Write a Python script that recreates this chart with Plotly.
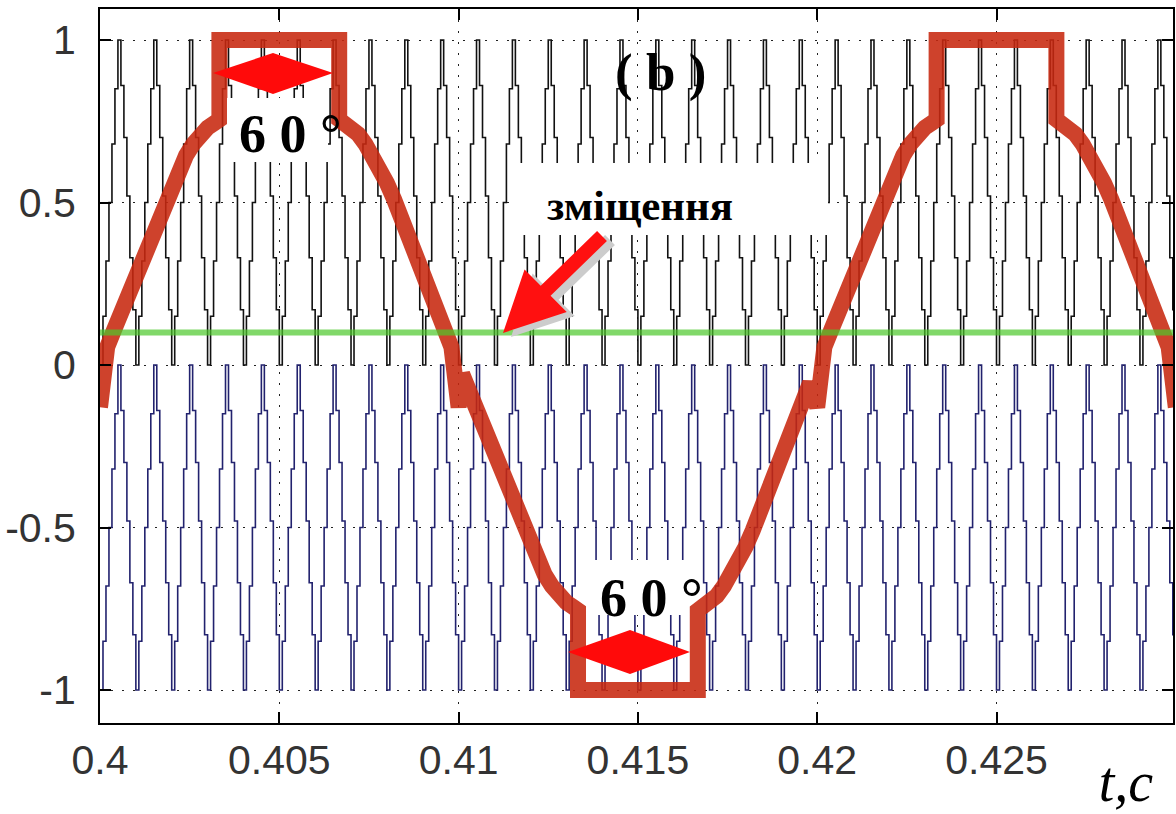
import numpy as np
import plotly.graph_objects as go

# ---------------- data ----------------
# modulating (reference) signal: red thick curve, time in s
red_t = [0.4000, 0.4001, 0.4002, 0.4004, 0.4006, 0.4008, 0.4010, 0.4012, 0.4014, 0.4016, 0.4018,
         0.4020, 0.4022, 0.4024, 0.4026, 0.4028, 0.4030, 0.4032, 0.40333,
         0.40333, 0.40667,
         0.40667, 0.4068, 0.4070, 0.4072, 0.4074, 0.4076, 0.4078, 0.4080, 0.4082, 0.4084,
         0.4086, 0.4088, 0.4090, 0.4092, 0.4094, 0.4096, 0.4098,
         0.4100, 0.4101, 0.4102, 0.4104, 0.4106, 0.4108, 0.4110, 0.4112, 0.4114, 0.4116, 0.4118,
         0.4120, 0.4122, 0.4124, 0.4126, 0.4128, 0.4130, 0.4132, 0.41333,
         0.41333, 0.41667,
         0.41667, 0.4168, 0.4170, 0.4172, 0.4174, 0.4176, 0.4178, 0.4180, 0.4182, 0.4184,
         0.4186, 0.4188, 0.4190, 0.4192, 0.4194, 0.4196, 0.4198,
         0.4200, 0.4201, 0.4202, 0.4204, 0.4206, 0.4208, 0.4210, 0.4212, 0.4214, 0.4216, 0.4218,
         0.4220, 0.4222, 0.4224, 0.4226, 0.4228, 0.4230, 0.4232, 0.42333,
         0.42333, 0.42667,
         0.42667, 0.4268, 0.4270, 0.4272, 0.4274, 0.4276, 0.4278, 0.4280, 0.4282, 0.4284,
         0.4286, 0.4288, 0.4290, 0.4292, 0.4294, 0.4296, 0.4298, 0.4300]
red_v = [-0.13, 0.028, 0.055, 0.110, 0.165, 0.215, 0.270, 0.330, 0.395, 0.455, 0.510,
         0.560, 0.605, 0.645, 0.680, 0.710, 0.730, 0.745, 0.755,
         1.000, 1.000,
         0.755, 0.745, 0.730, 0.710, 0.680, 0.645, 0.605, 0.560, 0.510, 0.455,
         0.395, 0.330, 0.270, 0.215, 0.165, 0.110, 0.055,
         -0.13, -0.028, -0.055, -0.110, -0.165, -0.215, -0.270, -0.330, -0.395, -0.455, -0.510,
         -0.560, -0.605, -0.645, -0.680, -0.710, -0.730, -0.745, -0.755,
         -1.000, -1.000,
         -0.755, -0.745, -0.730, -0.710, -0.680, -0.645, -0.605, -0.560, -0.510, -0.455,
         -0.395, -0.330, -0.270, -0.215, -0.165, -0.110, -0.055,
         -0.13, 0.028, 0.055, 0.110, 0.165, 0.215, 0.270, 0.330, 0.395, 0.455, 0.510,
         0.560, 0.605, 0.645, 0.680, 0.710, 0.730, 0.745, 0.755,
         1.000, 1.000,
         0.755, 0.745, 0.730, 0.710, 0.680, 0.645, 0.605, 0.560, 0.510, 0.455,
         0.395, 0.330, 0.270, 0.215, 0.165, 0.110, 0.055, -0.13]

# offset level (green line)
offset_level = 0.1

# triangular carriers: one sampled (stepped) period, repeated every period
carrier_period = 0.001
n_periods = 30
t_start = 0.4
upper_cycle = [0.0, 0.15, 0.32, 0.50, 0.68, 0.85, 1.0, 0.86, 0.70, 0.52, 0.33, 0.17]
lower_cycle = [-1.0, -0.85, -0.68, -0.50, -0.32, -0.15, 0.0, -0.14, -0.30, -0.48, -0.67, -0.83]

x_tick_vals = [0.4, 0.405, 0.41, 0.415, 0.42, 0.425]
x_tick_text = ["0.4", "0.405", "0.41", "0.415", "0.42", "0.425"]
y_tick_vals = [-1, -0.5, 0, 0.5, 1]
y_tick_text = ["-1", "-0.5", "0", "0.5", "1"]

# ---------------- build carriers ----------------
def carrier(cycle):
    n = n_periods * len(cycle) + 1
    vals = np.tile(cycle, n_periods + 1)[:n]
    t = t_start + np.arange(n) * (carrier_period / len(cycle))
    return t, vals

tu, vu = carrier(upper_cycle)
tl, vl = carrier(lower_cycle)

# ---------------- geometry helpers (pixel -> data / paper) ----------------
W, H = 1176, 814
ML, MR, MT, MB = 100, 3, 9, 91
PX_PER_S = 35860.0
Y0_PX, PX_PER_UNIT = 365.0, 325.0
x_max = 0.4 + (W - ML - MR) / PX_PER_S
y_max = (Y0_PX - MT) / PX_PER_UNIT
y_min = (Y0_PX - (H - MB)) / PX_PER_UNIT


def X(px):
    return 0.4 + (px - ML) / PX_PER_S


def Y(py):
    return (Y0_PX - py) / PX_PER_UNIT


def PX(px):
    return (px - ML) / (W - ML - MR)


def PY(py):
    return ((H - MB) - py) / (H - MB - MT)


def path(pts):
    return "M " + " L ".join(f"{X(a):.7f},{Y(b):.5f}" for a, b in pts) + " Z"


fig = go.Figure()

fig.add_trace(go.Scatter(x=tu, y=vu, mode="lines", line=dict(color="#111111", width=1.6, shape="hv"),
                         hoverinfo="skip", showlegend=False))
fig.add_trace(go.Scatter(x=tl, y=vl, mode="lines", line=dict(color="#22226e", width=1.6, shape="hv"),
                         hoverinfo="skip", showlegend=False))
fig.add_trace(go.Scatter(x=red_t, y=red_v, mode="lines", opacity=0.88,
                         line=dict(color="rgb(200,40,16)", width=16),
                         hoverinfo="skip", showlegend=False))
fig.add_trace(go.Scatter(x=[t_start, x_max], y=[offset_level, offset_level], mode="lines", opacity=0.7,
                         line=dict(color="#4cc82a", width=6), hoverinfo="skip", showlegend=False))

shapes = []
# white boxes behind labels
for x0, y0, x1, y1 in [(227, 98, 328, 162), (590, 560, 688, 615), (518, 163, 828, 235)]:
    shapes.append(dict(type="rect", xref="x", yref="y", x0=X(x0), x1=X(x1), y0=Y(y1), y1=Y(y0),
                       fillcolor="white", line=dict(width=0), layer="above"))

# arrow (with shadow)
u = np.array([-97.0, 96.0]); u /= np.linalg.norm(u)
nrm = np.array([u[1], -u[0]])
tip = np.array([503.0, 333.0]); tail = np.array([602.0, 236.0])
base = tip - 60 * u
arrow_pts = [tail + 7 * nrm, base + 7 * nrm, base + 30 * nrm, tip,
             base - 30 * nrm, base - 7 * nrm, tail - 7 * nrm]
shadow = [(p[0] + 8, p[1] + 4) for p in arrow_pts]
shapes.append(dict(type="path", xref="x", yref="y", path=path(shadow), fillcolor="#cccccc",
                   line=dict(width=0), layer="above"))
shapes.append(dict(type="path", xref="x", yref="y", path=path([(p[0], p[1]) for p in arrow_pts]),
                   fillcolor="#ff1010", line=dict(width=0), layer="above"))

# double-headed "60°" markers (diamonds)
for pts in [[(213, 73), (273, 53), (333, 73), (273, 94)],
            [(568, 652), (630, 630), (690, 652), (630, 674)]]:
    shapes.append(dict(type="path", xref="x", yref="y", path=path(pts), fillcolor="#ff0a0a",
                       line=dict(width=0), layer="above"))

serif = "Liberation Serif"
annotations = [
    dict(x=X(660), y=Y(72), text="<b>( b )</b>", font=dict(family=serif, size=53, color="black")),
    dict(x=X(290), y=Y(134), text="<b>6 0 °</b>", font=dict(family=serif, size=54, color="black")),
    dict(x=X(651), y=Y(598), text="<b>6 0 °</b>", font=dict(family=serif, size=54, color="black")),
    dict(x=X(640), y=Y(205), text="<b>зміщення</b>", font=dict(family=serif, size=43, color="black")),
]
for a in annotations:
    a.update(xref="x", yref="y", showarrow=False, xanchor="center", yanchor="middle")
annotations.append(dict(x=PX(1126), y=PY(782), xref="paper", yref="paper", showarrow=False,
                        xanchor="center", yanchor="middle", text="<i>t,c</i>",
                        width=80, height=56,
                        font=dict(family=serif, size=56, color="black")))

axis_common = dict(
    ticks="inside", ticklen=11, tickwidth=1.5, tickcolor="black",
    showline=True, linecolor="black", linewidth=2, mirror="ticks",
    showgrid=True, gridcolor="#222222", gridwidth=1.2, griddash="2px,9px",
    zeroline=False, automargin=False,
    tickfont=dict(family="Liberation Sans", size=41, color="#333333"),
)

fig.update_layout(
    width=W, height=H, autosize=False,
    margin=dict(l=ML, r=MR, t=MT, b=MB, pad=0),
    paper_bgcolor="white", plot_bgcolor="white",
    xaxis=dict(range=[0.4, x_max], tickmode="array", tickvals=x_tick_vals, ticktext=x_tick_text,
               ticklabelstandoff=0, **axis_common),
    yaxis=dict(range=[y_min, y_max], tickmode="array", tickvals=y_tick_vals, ticktext=y_tick_text,
               ticklabelstandoff=14, **axis_common),
    shapes=shapes, annotations=annotations, showlegend=False,
)

fig.write_html("out.html", config={"displayModeBar": False},
               post_script="document.body.style.margin='0px'; document.body.style.overflow='hidden';")
